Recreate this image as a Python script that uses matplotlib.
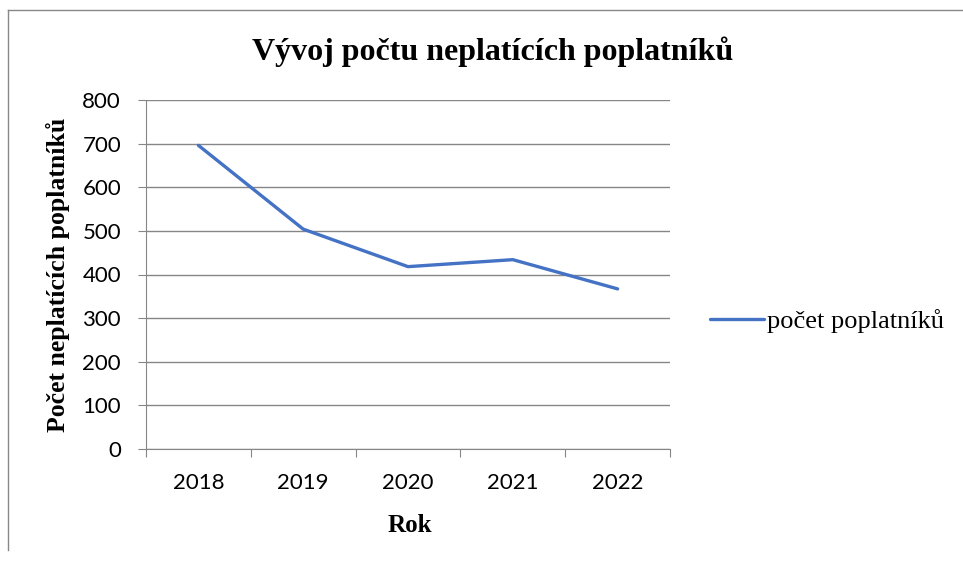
import numpy as np
import matplotlib.pyplot as plt

# data
roky = ['2018', '2019', '2020', '2021', '2022']
pocet = [696, 504, 418, 434, 367]
yticks = [0, 100, 200, 300, 400, 500, 600, 700, 800]

W, H = 963, 563
fig = plt.figure(figsize=(W/100, H/100), dpi=100)
ax = fig.add_axes([146/W, 1-449/H, (670-146)/W, (449-100)/H])

x = np.arange(len(roky))
ax.plot(x, pocet, color='#4472C4', lw=2.4, solid_capstyle='round', label='počet poplatníků')

ax.set_xlim(-0.5, len(roky)-0.5)
ax.set_ylim(0, 800)
ax.set_yticks(yticks)
ax.set_yticklabels([str(v) for v in yticks], fontsize=16, family='Lato')
ax.grid(axis='y', color='#868686', lw=1)
ax.set_axisbelow(True)

ax.set_xticks(np.arange(len(roky)+1)-0.5)
ax.set_xticklabels([])
ax.set_xticks(x, minor=True)
ax.set_xticklabels(roky, minor=True, fontsize=16, family='Lato')
ax.tick_params(axis='x', which='major', length=6, color='#868686', direction='out')
ax.tick_params(axis='x', which='minor', length=0, pad=17)
ax.tick_params(axis='y', length=6, color='#868686', pad=12)

for s in ['top', 'right']:
    ax.spines[s].set_visible(False)
ax.spines['left'].set_color('#868686')
ax.spines['bottom'].set_color('#868686')

fig.text(493/W, 1-60/H, 'Vývoj počtu neplatících poplatníků', ha='center', va='baseline',
         fontsize=23, fontweight='bold', family='Liberation Serif')
fig.text(410/W, 1-532/H, 'Rok', ha='center', va='baseline',
         fontsize=18, fontweight='bold', family='Liberation Serif')
fig.text(58/W, 1-275/H, 'Počet neplatících poplatníků', ha='center', va='center',
         rotation=90, fontsize=18.5, fontweight='bold', family='Liberation Serif')

leg = ax.legend(loc='center left', bbox_to_anchor=(710/W, 1-321/H), bbox_transform=fig.transFigure,
                frameon=False, prop={'family': 'Liberation Serif', 'size': 19},
                handlelength=2.05, handletextpad=0.1, borderpad=0, borderaxespad=0)

# chart border (left and top only)
fig.add_artist(plt.Line2D([8/W, 8/W], [1-550/H, 1-10/H], color='#888888', lw=1, transform=fig.transFigure))
fig.add_artist(plt.Line2D([8/W, 1], [1-10/H, 1-10/H], color='#888888', lw=1, transform=fig.transFigure))

fig.savefig('out.png', dpi=100)
